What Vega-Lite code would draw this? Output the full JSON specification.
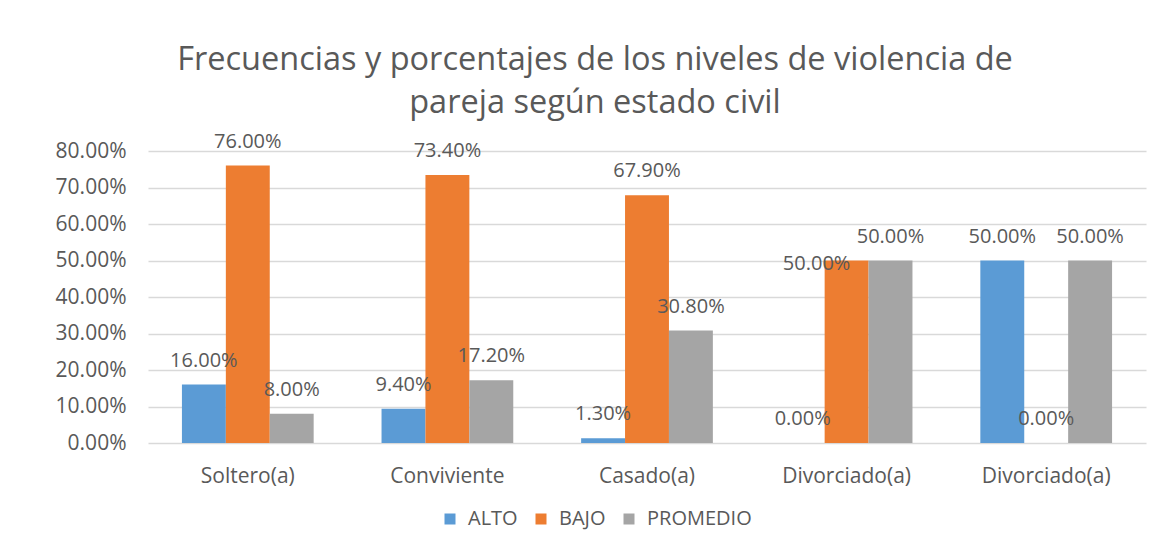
{
  "$schema": "https://vega.github.io/schema/vega-lite/v6.json",
  "autosize": "none",
  "width": 998,
  "height": 292,
  "padding": {"left": 148, "top": 151, "right": 20, "bottom": 106},
  "background": "white",
  "config": {"view": {"stroke": null}},
  "title": {
    "text": ["Frecuencias y porcentajes de los niveles de violencia de", "pareja según estado civil"],
    "font": "Open Sans",
    "fontSize": 32.5,
    "fontWeight": "normal",
    "color": "#595959",
    "lineHeight": 43,
    "anchor": "middle",
    "dx": -52,
    "offset": 12
  },
  "data": {
    "values": [
      {"cat": "Soltero(a)", "serie": "ALTO", "valor": 0.16},
      {"cat": "Soltero(a)", "serie": "BAJO", "valor": 0.76},
      {"cat": "Soltero(a)", "serie": "PROMEDIO", "valor": 0.08},
      {"cat": "Conviviente", "serie": "ALTO", "valor": 0.094},
      {"cat": "Conviviente", "serie": "BAJO", "valor": 0.734},
      {"cat": "Conviviente", "serie": "PROMEDIO", "valor": 0.172},
      {"cat": "Casado(a)", "serie": "ALTO", "valor": 0.013},
      {"cat": "Casado(a)", "serie": "BAJO", "valor": 0.679},
      {"cat": "Casado(a)", "serie": "PROMEDIO", "valor": 0.308},
      {"cat": "Divorciado(a) 1", "serie": "ALTO", "valor": 0},
      {"cat": "Divorciado(a) 1", "serie": "BAJO", "valor": 0.5},
      {"cat": "Divorciado(a) 1", "serie": "PROMEDIO", "valor": 0.5},
      {"cat": "Divorciado(a) 2", "serie": "ALTO", "valor": 0.5},
      {"cat": "Divorciado(a) 2", "serie": "BAJO", "valor": 0},
      {"cat": "Divorciado(a) 2", "serie": "PROMEDIO", "valor": 0.5}
    ]
  },
  "encoding": {
    "x": {
      "field": "cat",
      "type": "nominal",
      "sort": null,
      "scale": {"paddingInner": 0.34, "paddingOuter": 0.17},
      "axis": {
        "title": null,
        "labelAngle": 0,
        "labelExpr": "slice(datum.label, 0, 13)",
        "ticks": false,
        "domain": false,
        "labelPadding": 22,
        "labelFont": "Open Sans",
        "labelFontSize": 21,
        "labelColor": "#595959"
      }
    },
    "xOffset": {"field": "serie", "type": "nominal", "sort": ["ALTO", "BAJO", "PROMEDIO"], "scale": {"paddingInner": 0, "paddingOuter": 0}},
    "y": {
      "field": "valor",
      "type": "quantitative",
      "scale": {"domain": [0, 0.8]},
      "axis": {
        "title": null,
        "format": ".2%",
        "values": [0, 0.1, 0.2, 0.3, 0.4, 0.5, 0.6, 0.7, 0.8],
        "labelOverlap": false,
        "ticks": false,
        "domain": false,
        "labelPadding": 22,
        "labelFont": "Open Sans",
        "labelFontSize": 21,
        "labelColor": "#595959",
        "gridColor": "#d9d9d9",
        "gridWidth": 1.5
      }
    }
  },
  "layer": [
    {
      "mark": {"type": "bar"},
      "encoding": {
        "color": {
          "field": "serie",
          "type": "nominal",
          "scale": {"domain": ["ALTO", "BAJO", "PROMEDIO"], "range": ["#5B9BD5", "#ED7D31", "#A5A5A5"]},
          "legend": {
            "title": null,
            "orient": "none",
            "direction": "horizontal",
            "legendX": 292,
            "legendY": 358,
            "symbolType": "square",
            "symbolSize": 121,
            "symbolStrokeWidth": 0,
            "labelFont": "Open Sans",
            "labelFontSize": 20,
            "labelColor": "#595959",
            "labelOffset": 8,
            "columnPadding": 13
          }
        }
      }
    },
    {
      "transform": [{"filter": "!(datum.cat == 'Divorciado(a) 1' && datum.serie == 'BAJO')"}],
      "mark": {"type": "text", "baseline": "alphabetic", "dy": -18, "font": "Open Sans", "fontSize": 20, "color": "#595959"},
      "encoding": {"text": {"field": "valor", "type": "quantitative", "format": ".2%"}}
    },
    {
      "transform": [{"filter": "datum.cat == 'Divorciado(a) 1' && datum.serie == 'BAJO'"}],
      "mark": {"type": "text", "baseline": "alphabetic", "dy": 9, "dx": -30, "font": "Open Sans", "fontSize": 20, "color": "#595959"},
      "encoding": {"text": {"field": "valor", "type": "quantitative", "format": ".2%"}}
    }
  ]
}
